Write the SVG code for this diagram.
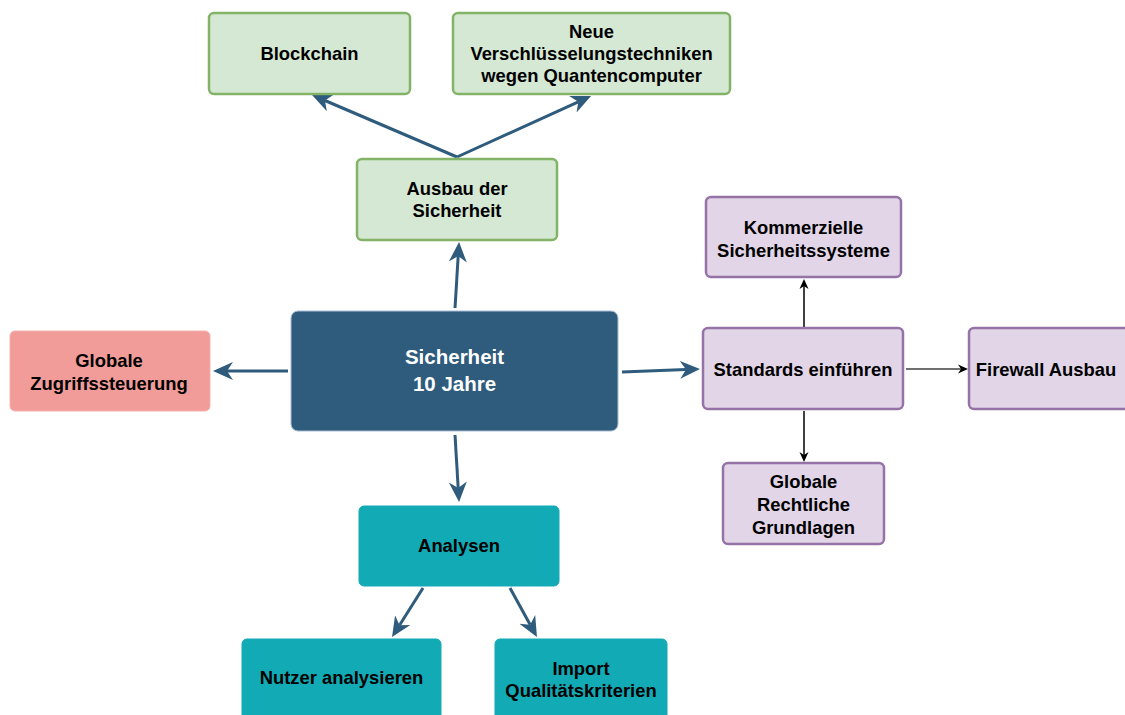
<svg xmlns="http://www.w3.org/2000/svg" width="1125" height="715" viewBox="0 0 1125 715">
  <style>
    .lbl { font-family: "Liberation Sans", Arial, Helvetica, sans-serif; font-weight: bold; font-size: 18.4px; fill: #000; text-anchor: middle; }
    .main { font-size: 20.5px; fill: #fff; }
    .green { fill: #d5e8d4; stroke: #82b366; stroke-width: 2.5; }
    .purple { fill: #e1d5e7; stroke: #9673a6; stroke-width: 2.5; }
    .teal { fill: #12aab5; stroke: #12aab5; stroke-width: 1; }
    .pink { fill: #f19c99; stroke: #f4b2b0; stroke-width: 1; }
    .core { fill: #2f5b7c; stroke: #a9bfd6; stroke-width: 1; }
    .edge { fill: none; stroke: #2f5b7c; stroke-width: 3; }
    .thin { fill: none; stroke: #000; stroke-width: 1.5; }
    .grey { fill: none; stroke: #707070; stroke-width: 1.8; }
  </style>
  <defs>
    <marker id="arrBlue" viewBox="0 0 20 20" refX="6" refY="10" markerWidth="20" markerHeight="20" orient="auto" markerUnits="userSpaceOnUse">
      <path d="M0,1 L20,10 L0,19 L6,10 Z" fill="#2f5b7c"/>
    </marker>
    <marker id="arrBlack" viewBox="0 0 10 10" refX="3" refY="5" markerWidth="10" markerHeight="10" orient="auto" markerUnits="userSpaceOnUse">
      <path d="M0,0.5 L10,5 L0,9.5 L3,5 Z" fill="#000"/>
    </marker>
  </defs>

  <rect width="1125" height="715" fill="#fff"/>

  <g id="connectors">
    <line class="edge" x1="457" y1="157" x2="324.9" y2="100.5" marker-end="url(#arrBlue)"/>
    <line class="edge" x1="457" y1="157" x2="578.3" y2="101.8" marker-end="url(#arrBlue)"/>
    <line class="edge" x1="455" y1="308" x2="458.2" y2="256" marker-end="url(#arrBlue)"/>
    <line class="edge" x1="288" y1="371" x2="227" y2="371" marker-end="url(#arrBlue)"/>
    <line class="edge" x1="622" y1="372" x2="686" y2="369.5" marker-end="url(#arrBlue)"/>
    <line class="edge" x1="455" y1="435" x2="458.2" y2="488" marker-end="url(#arrBlue)"/>
    <line class="edge" x1="423" y1="588" x2="399.5" y2="625.2" marker-end="url(#arrBlue)"/>
    <line class="edge" x1="510" y1="588" x2="530.2" y2="624.7" marker-end="url(#arrBlue)"/>
    <line class="thin" x1="804" y1="327" x2="804" y2="286" marker-end="url(#arrBlack)"/>
    <line class="thin" x1="804" y1="411" x2="804" y2="455" marker-end="url(#arrBlack)"/>
    <line class="grey" x1="906" y1="369" x2="961" y2="369" marker-end="url(#arrBlack)"/>
  </g>

  <g id="blockchain">
    <rect class="green" x="209" y="13" width="201" height="81" rx="5"/>
    <text class="lbl" x="309.5" y="59.5">Blockchain</text>
  </g>
  <g id="verschluesselung">
    <rect class="green" x="453" y="13" width="277" height="81" rx="5"/>
    <text class="lbl" x="591.5" y="37.5">Neue</text>
    <text class="lbl" x="591.5" y="59.5">Verschlüsselungstechniken</text>
    <text class="lbl" x="591.5" y="81.5">wegen Quantencomputer</text>
  </g>
  <g id="ausbau">
    <rect class="green" x="357" y="159" width="200" height="81" rx="5"/>
    <text class="lbl" x="457" y="195">Ausbau der</text>
    <text class="lbl" x="457" y="217">Sicherheit</text>
  </g>
  <g id="kommerzielle">
    <rect class="purple" x="706" y="197" width="195" height="80" rx="5"/>
    <text class="lbl" x="803.5" y="233.5">Kommerzielle</text>
    <text class="lbl" x="803.5" y="256.5">Sicherheitssysteme</text>
  </g>
  <g id="sicherheit">
    <rect class="core" x="291" y="311" width="327" height="120" rx="7"/>
    <text class="lbl main" x="454.5" y="363.5">Sicherheit</text>
    <text class="lbl main" x="454.5" y="390.5">10 Jahre</text>
  </g>
  <g id="zugriff">
    <rect class="pink" x="10" y="331" width="200" height="80" rx="5"/>
    <text class="lbl" x="109" y="366.5">Globale</text>
    <text class="lbl" x="109" y="389.5">Zugriffssteuerung</text>
  </g>
  <g id="standards">
    <rect class="purple" x="703" y="328" width="200" height="81" rx="5"/>
    <text class="lbl" x="803" y="375.5">Standards einführen</text>
  </g>
  <g id="firewall">
    <rect class="purple" x="969" y="328" width="200" height="81" rx="5"/>
    <text class="lbl" x="1046" y="375.5">Firewall Ausbau</text>
  </g>
  <g id="rechtliche">
    <rect class="purple" x="723" y="463" width="161" height="81" rx="5"/>
    <text class="lbl" x="803.5" y="487.5">Globale</text>
    <text class="lbl" x="803.5" y="510.5">Rechtliche</text>
    <text class="lbl" x="803.5" y="533.5">Grundlagen</text>
  </g>
  <g id="analysen">
    <rect class="teal" x="359" y="506" width="200" height="80" rx="5"/>
    <text class="lbl" x="459" y="552">Analysen</text>
  </g>
  <g id="nutzer">
    <rect class="teal" x="242" y="639" width="199" height="85" rx="5"/>
    <text class="lbl" x="341.5" y="684">Nutzer analysieren</text>
  </g>
  <g id="import">
    <rect class="teal" x="495" y="639" width="172" height="85" rx="5"/>
    <text class="lbl" x="581" y="675">Import</text>
    <text class="lbl" x="581" y="697">Qualitätskriterien</text>
  </g>
</svg>
